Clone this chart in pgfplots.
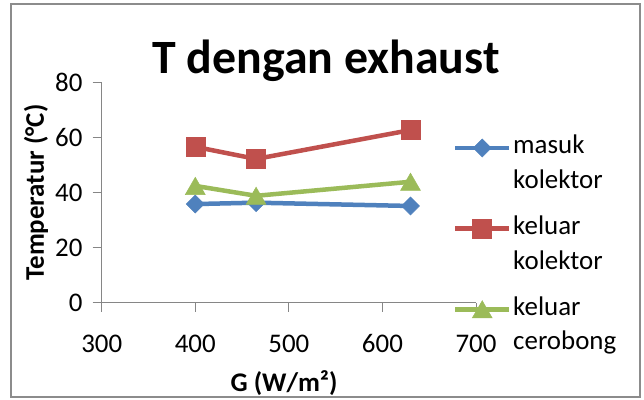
\documentclass[border=0pt]{standalone}
\usepackage{pgfplots}
\pgfplotsset{compat=1.18}
\usepackage{fontspec}
\setmainfont{Carlito}

\definecolor{sblue}{HTML}{4F81BD}
\definecolor{sred}{HTML}{C0504D}
\definecolor{sgreen}{HTML}{9BBB59}
\definecolor{axgray}{HTML}{868686}
\definecolor{framegray}{HTML}{8C8C8C}

\newcommand\lbl{\fontsize{27}{35}\selectfont}
% two-line legend text whose vertical centre sits on the first line
\newcommand\lentry[2]{\raisebox{0pt}[1ex][0pt]{\begin{tabular}[t]{@{}l@{}}#1\\#2\end{tabular}}}

\pgfplotstableread{
x    y
400  35.8
465  36.3
630  35.1
}\masuk
\pgfplotstableread{
x    y
400  56.6
465  52.2
630  62.7
}\keluarkol
\pgfplotstableread{
x    y
400  42.4
465  38.8
630  43.9
}\keluarcer

\begin{document}
\begin{tikzpicture}
\useasboundingbox (0,0) rectangle (644bp,400bp);
\fill[white] (0,0) rectangle (644bp,400bp);
\draw[framegray, line width=2bp] (11bp,3bp) rectangle (640bp,396bp);
\begin{axis}[
  at={(101.7bp,97.5bp)}, anchor=south west,
  scale only axis, width=374.3bp, height=220bp,
  xmin=300, xmax=700, ymin=0, ymax=80,
  xtick={300,400,...,700}, ytick={0,20,...,80},
  axis x line*=bottom, axis y line*=left,
  axis line style={axgray, line width=1bp, -},
  tick align=outside, major tick length=9bp,
  tick style={axgray, line width=1bp},
  /pgf/number format/assume math mode=true,
  ticklabel style={font=\lbl, inner sep=0pt, text=black},
  xticklabel shift=23bp,
  yticklabel style={xshift=-10bp},
  title={T dengan exhaust},
  title style={font=\fontsize{48}{56}\selectfont\bfseries, at={(axis description cs:0.599,1.015)}, anchor=base, inner sep=0pt},
  xlabel={G (W/m²)},
  xlabel style={font=\lbl\bfseries, at={(axis description cs:0.487,-0.368)}, anchor=center, inner sep=0pt},
  ylabel={Temperatur (°C)},
  ylabel style={font=\lbl\bfseries, at={(axis description cs:-0.1755,0.5)}, anchor=center, inner sep=0pt},
  legend style={at={(axis description cs:0.944,0.749)}, anchor=north west,
    draw=none, fill=none, inner sep=0pt, row sep=60.7bp, column sep=4bp,
    nodes={inner sep=0pt, font=\lbl}},
  legend cell align=left,
  legend image code/.code={%
    \path[draw=none, fill=none] (0bp,-10bp) rectangle (54bp,10bp);
    \draw[overlay,mark repeat=2,mark phase=2,#1] plot coordinates {(0bp,0bp) (27bp,0bp) (54bp,0bp)};},
  every axis plot/.append style={line width=4.5bp},
]
\addplot[sblue, mark=diamond*, mark size=9bp, mark options={solid, xscale=1.333, line width=0.5bp}] table {\masuk};
\addlegendentry{\lentry{masuk}{kolektor}}
\addplot[sred, mark=square*, mark size=9.5bp, mark options={solid, line width=0.5bp}] table {\keluarkol};
\addlegendentry{\lentry{keluar}{kolektor}}
\addplot[sgreen, mark=triangle*, mark size=11.5bp, mark options={solid, yshift=-2.9bp, line width=0.5bp}] table {\keluarcer};
\addlegendentry{\lentry{keluar}{cerobong}}
\end{axis}
\end{tikzpicture}
\end{document}
